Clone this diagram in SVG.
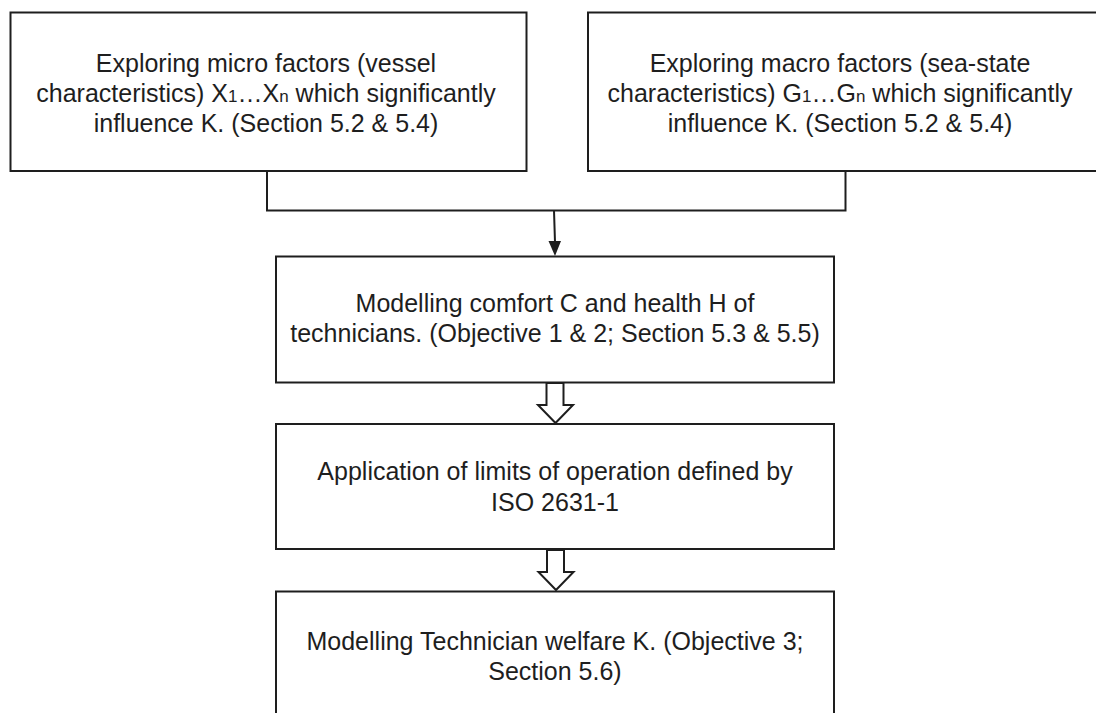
<svg xmlns="http://www.w3.org/2000/svg" width="1096" height="713" viewBox="0 0 1096 713">
  <defs>
    <style>
      .box { fill: #ffffff; stroke: #1e1e1e; stroke-width: 2; }
      .label { font-family: "Liberation Sans", Arial, sans-serif; font-size: 25px; fill: #1e1e1e; text-anchor: middle; }
      .sub { font-size: 17px; }
      .wire { fill: none; stroke: #1e1e1e; stroke-width: 2; }
      .hollow { fill: #ffffff; stroke: #1e1e1e; stroke-width: 2; stroke-linejoin: miter; }
    </style>
  </defs>

  <rect width="1096" height="713" fill="#ffffff"/>

  <!-- connectors -->
  <g id="connectors">
    <path class="wire" d="M267,171 V210.5 H845.5 V171"/>
    <path class="wire" d="M554,210.5 L555,242"/>
    <path d="M548.5,241 L561,241 L555,256 Z" fill="#1e1e1e"/>
    <path class="hollow" d="M546.5,383 H563.5 V405 H573 L555.5,423 L538,405 H546.5 Z"/>
    <path class="hollow" d="M547,550 H564 V572 H573.5 L556,590 L538.5,572 H547 Z"/>
  </g>

  <!-- micro factors -->
  <g id="micro">
    <rect class="box" x="10.5" y="12.5" width="516" height="158.5"/>
    <text class="label" x="266" y="72">Exploring micro factors (vessel</text>
    <text class="label" x="266" y="102">characteristics) X<tspan class="sub">1</tspan>…X<tspan class="sub">n</tspan> which significantly</text>
    <text class="label" x="266" y="132">influence K. (Section 5.2 &amp; 5.4)</text>
  </g>

  <!-- macro factors -->
  <g id="macro">
    <rect class="box" x="588" y="12.5" width="512" height="158.5"/>
    <text class="label" x="840" y="72">Exploring macro factors (sea-state</text>
    <text class="label" x="840" y="102">characteristics) G<tspan class="sub">1</tspan>…G<tspan class="sub">n</tspan> which significantly</text>
    <text class="label" x="840" y="132">influence K. (Section 5.2 &amp; 5.4)</text>
  </g>

  <!-- comfort and health -->
  <g id="comfort">
    <rect class="box" x="276" y="256.5" width="558" height="126"/>
    <text class="label" x="555" y="312">Modelling comfort C and health H of</text>
    <text class="label" x="555" y="342">technicians. (Objective 1 &amp; 2; Section 5.3 &amp; 5.5)</text>
  </g>

  <!-- limits of operation -->
  <g id="limits">
    <rect class="box" x="276" y="424" width="558" height="125"/>
    <text class="label" x="555" y="480">Application of limits of operation defined by</text>
    <text class="label" x="555" y="511">ISO 2631-1</text>
  </g>

  <!-- technician welfare -->
  <g id="welfare">
    <rect class="box" x="276" y="591.5" width="558" height="135"/>
    <text class="label" x="555" y="650">Modelling Technician welfare K. (Objective 3;</text>
    <text class="label" x="555" y="680">Section 5.6)</text>
  </g>
</svg>
